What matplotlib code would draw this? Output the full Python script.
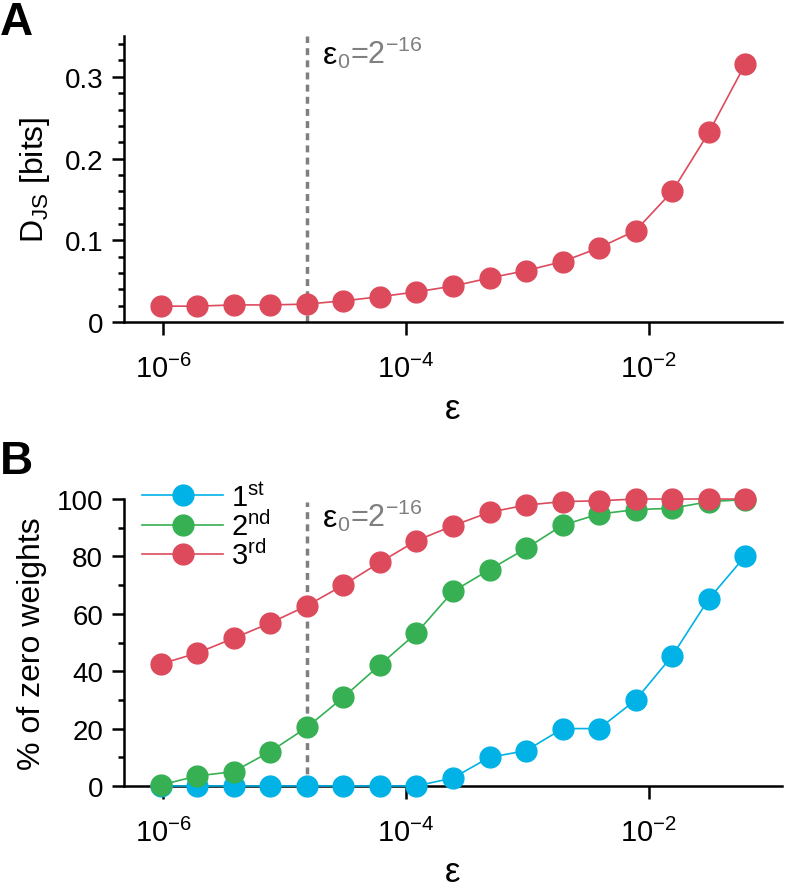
import matplotlib
matplotlib.use('Agg')
import matplotlib.pyplot as plt
from matplotlib.ticker import FixedLocator, MultipleLocator, NullLocator

plt.rcParams['font.family'] = ['Liberation Sans', 'DejaVu Sans']
plt.rcParams['mathtext.fontset'] = 'custom'
plt.rcParams['mathtext.rm'] = 'Liberation Sans'
plt.rcParams['mathtext.it'] = 'Liberation Sans:italic'
plt.rcParams['mathtext.bf'] = 'Liberation Sans:bold'

# epsilon = 2^k
eps_exponents = [-20, -19, -18, -17, -16, -15, -14, -13, -12, -11, -10, -9, -8, -7, -6, -5, -4]
eps = [2.0 ** k for k in eps_exponents]
eps0 = 2.0 ** -16

# panel A: Jensen-Shannon divergence
djs = [0.0195, 0.0195, 0.021, 0.021, 0.022, 0.026, 0.031, 0.037, 0.044,
       0.054, 0.063, 0.074, 0.091, 0.112, 0.160, 0.232, 0.316]

# panel B: % of zero weights per order
first = [0, 0, 0, 0, 0, 0, 0, 0, 2.8, 10, 12.3, 20, 20, 30, 45.4, 65.2, 80.2]
second = [0.3, 3.5, 5, 12, 20.4, 30.9, 42.2, 53.3, 67.8, 75.4, 82.8, 90.9,
          94.8, 96.3, 96.8, 99.1, 99.8]
third = [42.5, 46.3, 51.5, 56.8, 62.8, 70.0, 77.9, 85.5, 90.7, 95.4, 97.9,
         99.1, 99.4, 100, 100, 100, 100]
order_labels = [r'1$^{\mathrm{st}}$', r'2$^{\mathrm{nd}}$', r'3$^{\mathrm{rd}}$']

xticks = [1e-6, 1e-4, 1e-2]
xticklabels = [r'$10^{-6}$', r'$10^{-4}$', r'$10^{-2}$']

red = '#dc4a5c'
green = '#36b052'
blue = '#00b2e6'
gray = '#7f7f7f'

fig = plt.figure(figsize=(7.87, 8.95), dpi=100)
axA = fig.add_axes([0.1576, 0.639, 0.836, 0.3197])
axB = fig.add_axes([0.1576, 0.1207, 0.836, 0.3206])


def style(ax):
    ax.set_xscale('log')
    ax.set_xlim(2.0 ** -21, 2.0 ** -3)
    for s in ['top', 'right']:
        ax.spines[s].set_visible(False)
    for s in ['left', 'bottom']:
        ax.spines[s].set_linewidth(1.8)
    ax.xaxis.set_major_locator(FixedLocator(xticks))
    ax.xaxis.set_minor_locator(NullLocator())
    ax.set_xticklabels(xticklabels)
    ax.tick_params(which='major', length=9, width=1.8, labelsize=20, pad=6)
    ax.tick_params(axis='x', which='major', labelsize=21, pad=14)
    ax.tick_params(axis='y', which='minor', length=4.5, width=1.8)
    ax.set_xlabel('ε', fontsize=25, labelpad=6)


def eps0_label(ax, y):
    t1 = ax.text(2.06e-5, y, 'ε', fontsize=23, color='black', ha='left', va='baseline')
    fig.canvas.draw()
    bb = t1.get_window_extent()
    x2 = ax.transData.inverted().transform((bb.x1, 0))[0]
    ax.text(x2, y, r'${}_0$=2$^{-16}$', fontsize=22, color=gray, ha='left', va='baseline')


# ---- panel A
style(axA)
axA.plot(eps, djs, '-o', color=red, lw=1.2, ms=15, clip_on=False, zorder=3)
axA.axvline(eps0, color=gray, lw=2.5, ls=(0, (2, 1.5)), zorder=2)
axA.set_ylim(0, 0.35)
axA.yaxis.set_major_locator(FixedLocator([0, 0.1, 0.2, 0.3]))
axA.set_yticklabels(['0', '0.1', '0.2', '0.3'])
axA.yaxis.set_minor_locator(MultipleLocator(0.02))
axA.set_ylabel(r'D$_{\mathrm{JS}}$ [bits]', fontsize=23, labelpad=9)
eps0_label(axA, 0.317)

# ---- panel B
style(axB)
axB.plot(eps, first, '-o', color=blue, lw=1.2, ms=15, clip_on=False, zorder=3, label=order_labels[0])
axB.plot(eps, second, '-o', color=green, lw=1.2, ms=15, clip_on=False, zorder=4, label=order_labels[1])
axB.plot(eps, third, '-o', color=red, lw=1.2, ms=15, clip_on=False, zorder=5, label=order_labels[2])
axB.axvline(eps0, ymax=0.99, color=gray, lw=2.5, ls=(0, (2, 1.5)), zorder=2)
axB.set_ylim(0, 100)
axB.yaxis.set_major_locator(MultipleLocator(20))
axB.yaxis.set_minor_locator(MultipleLocator(10))
axB.set_ylabel('% of zero weights', fontsize=23, labelpad=7)
axB.legend(loc='upper left', bbox_to_anchor=(0.027, 1.058), frameon=False,
           fontsize=21, handlelength=2.8, handletextpad=0.25, labelspacing=-0.05,
           borderpad=0, borderaxespad=0)
eps0_label(axB, 90.5)

# panel letters
fig.text(0.0, 0.999, 'A', fontsize=33, fontweight='bold', va='top', ha='left')
fig.text(0.0, 0.508, 'B', fontsize=33, fontweight='bold', va='top', ha='left')

fig.savefig('out.png', dpi=100)
